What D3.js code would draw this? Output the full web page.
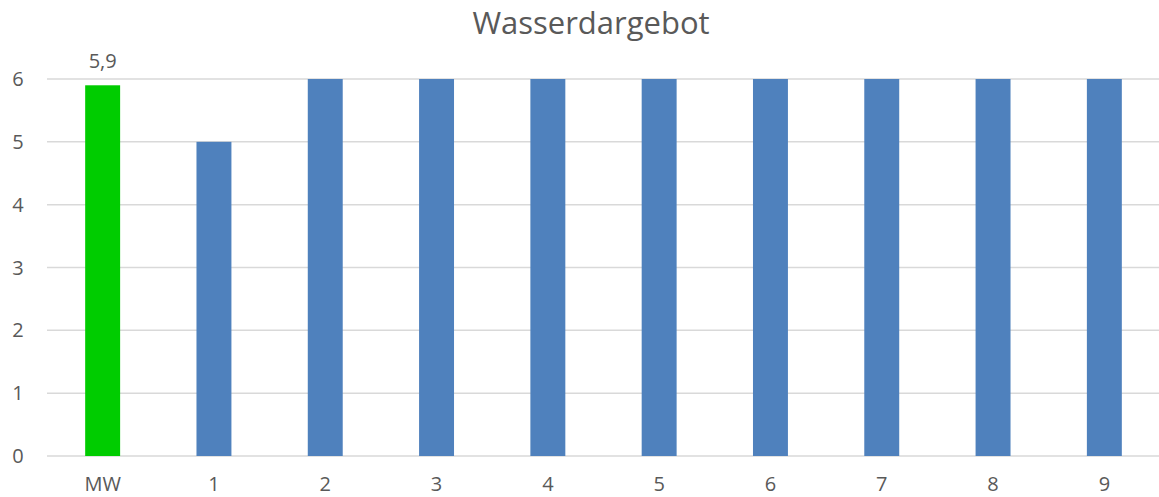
<!DOCTYPE html>
<html>
<head>
<meta charset="utf-8">
<script src="https://cdn.jsdelivr.net/npm/d3@7"></script>
<style>
  body { margin: 0; background: #fff; }
  text { font-family: "Open Sans", sans-serif; fill: #595959; }
</style>
</head>
<body>
<div id="chart"></div>
<script>
// data
var categories = ["MW", "1", "2", "3", "4", "5", "6", "7", "8", "9"];
var values = [5.9, 5, 6, 6, 6, 6, 6, 6, 6, 6];
var yTicks = [0, 1, 2, 3, 4, 5, 6];
var chartTitle = "Wasserdargebot";
var labelText = "5,9";

var W = 1159, H = 497;
var margin = {top: 79, right: -1, bottom: 41, left: 47};

var svg = d3.select("#chart").append("svg")
  .attr("width", W).attr("height", H);

var x = d3.scaleBand()
  .domain(categories)
  .range([margin.left, W - margin.right])
  .paddingInner(0.686)
  .paddingOuter(0.343);

var y = d3.scaleLinear()
  .domain([0, 6])
  .range([H - margin.bottom, margin.top]);

// gridlines
svg.append("g").selectAll("line")
  .data(yTicks)
  .join("line")
    .attr("x1", margin.left)
    .attr("x2", W)
    .attr("y1", d => y(d))
    .attr("y2", d => y(d))
    .attr("stroke", "#d9d9d9")
    .attr("stroke-width", 1.5);

// y labels
svg.append("g").selectAll("text")
  .data(yTicks)
  .join("text")
    .attr("x", 18)
    .attr("y", d => y(d) + 7)
    .attr("text-anchor", "middle")
    .style("font-size", "20px")
    .text(d => d);

// bars
svg.append("g").selectAll("rect")
  .data(values)
  .join("rect")
    .attr("x", (d, i) => x(categories[i]))
    .attr("width", x.bandwidth())
    .attr("y", d => y(d))
    .attr("height", d => y(0) - y(d))
    .attr("fill", (d, i) => i === 0 ? "#00cc00" : "#4f81bd");

// x labels
svg.append("g").selectAll("text")
  .data(categories)
  .join("text")
    .attr("x", d => x(d) + x.bandwidth() / 2)
    .attr("y", 491)
    .attr("text-anchor", "middle")
    .style("font-size", "20px")
    .text(d => d);

// data label
svg.append("text")
  .attr("x", x("MW") + x.bandwidth() / 2)
  .attr("y", y(values[0]) - 17)
  .attr("text-anchor", "middle")
  .style("font-size", "20px")
  .text(labelText);

// title
svg.append("text")
  .attr("x", 591)
  .attr("y", 34)
  .attr("text-anchor", "middle")
  .style("font-size", "31px")
  .text(chartTitle);
</script>
</body>
</html>
